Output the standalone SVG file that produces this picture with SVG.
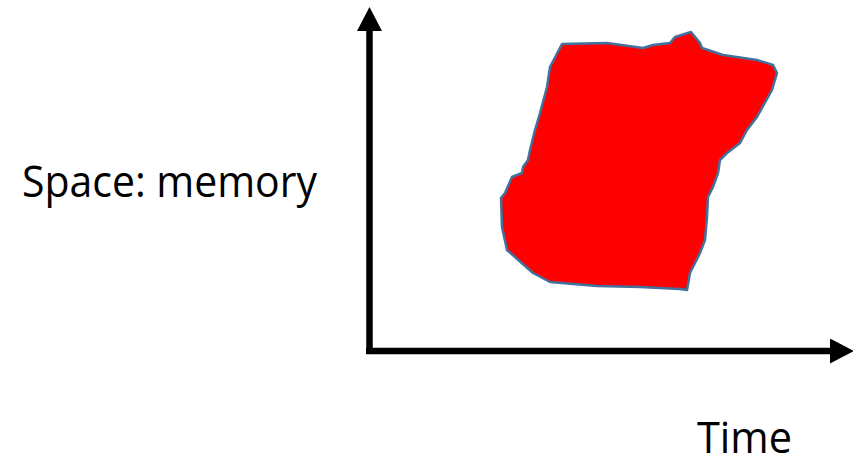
<svg xmlns="http://www.w3.org/2000/svg" width="853" height="457" viewBox="0 0 853 457">
<style>
.lbl{font-family:"Open Sans","Liberation Sans",sans-serif;font-size:43px;fill:#000}
.axis{stroke:#000;stroke-width:6.5;fill:none}
</style>
<defs>
<marker id="ah" markerUnits="userSpaceOnUse" markerWidth="24" markerHeight="25" refX="0" refY="12.5" orient="auto" viewBox="0 0 24 25">
<path d="M0,0 L24,12.5 L0,25 Z" fill="#000"/>
</marker>
</defs>
<rect width="853" height="457" fill="#fff"/>
<g id="blob">
<path d="M562,44 L607,43 L643,48 L653,45 L670,43 L675,37 L691,32 L700,43 L702,48 L723,55 L757,60 L773,65 L777,73 L772,90 L757,117 L747,130 L740,143 L727,153 L720,160 L718,173 L713,187 L708,197 L707,217 L705,240 L700,253 L690,273 L687,290 L680,289 L640,287 L597,286 L550,282 L533,273 L507,250 L502,227 L501,198 L505,193 L512,177 L522,173 L523,167 L528,160 L530,150 L535,130 L540,113 L547,87 L550,67 Z" fill="#ff0000" stroke="#41719c" stroke-width="2.5" stroke-linejoin="round"/>
</g>
<g id="connectors">
<line class="axis" x1="369.5" y1="354" x2="369.5" y2="31" marker-end="url(#ah)"/>
<line class="axis" x1="366" y1="351" x2="830" y2="351" marker-end="url(#ah)"/>
</g>
<g id="label-space"><text class="lbl" x="22" y="197" textLength="295" lengthAdjust="spacingAndGlyphs">Space: memory</text></g>
<g id="label-time"><text class="lbl" x="697" y="453" textLength="95" lengthAdjust="spacingAndGlyphs">Time</text></g>
</svg>
